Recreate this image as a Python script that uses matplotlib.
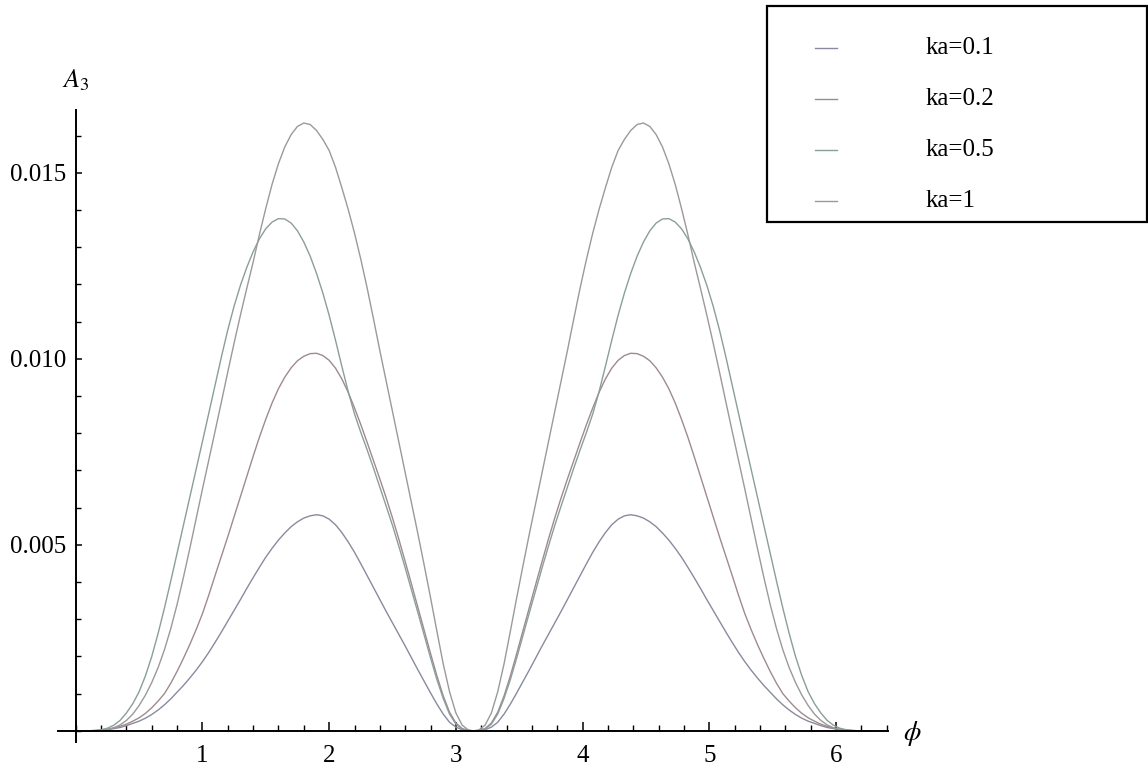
import numpy as np
import matplotlib
matplotlib.use("Agg")
import matplotlib.pyplot as plt
from matplotlib.lines import Line2D
from matplotlib.patches import Rectangle
from matplotlib.ticker import MultipleLocator, FixedLocator

plt.rcParams["font.family"] = ["Liberation Serif", "DejaVu Serif"]
plt.rcParams["mathtext.fontset"] = "stix"

W, H = 1148, 775

# sampling grid for the readings: 0..3.10 and 3.18..6.28 in steps of 0.05, plus the touch point at pi
phi_left = np.round(np.arange(0.0, 3.101, 0.05), 2)
phi_mid = [3.14]
phi_right = np.round(np.arange(3.18, 6.281, 0.05), 2)

# readings of A_3 on each lobe
a_left = [0, 0, 0, 0, 0.00001, 0.00003, 0.00008, 0.00016, 0.00028, 0.00045,
          0.00068, 0.00096, 0.00130, 0.00170, 0.00218, 0.00275, 0.00340, 0.00413, 0.00490, 0.00570,
          0.00650, 0.00728, 0.00806, 0.00885, 0.00965, 0.01043, 0.01118, 0.01190, 0.01260, 0.01335,
          0.01405, 0.01470, 0.01525, 0.01570, 0.01603, 0.01625, 0.01634, 0.01630, 0.01614, 0.01590,
          0.01560, 0.01515, 0.01460, 0.01402, 0.01338, 0.01267, 0.01190, 0.01107, 0.01022, 0.00940,
          0.00858, 0.00776, 0.00694, 0.00612, 0.00530, 0.00445, 0.00358, 0.00268, 0.00180, 0.00105,
          0.00048, 0.00015, 0.00002]
a_right = [0.00002, 0.00015, 0.00048,
           0.00105, 0.00180, 0.00268, 0.00358, 0.00445, 0.00530, 0.00612, 0.00694, 0.00776, 0.00858,
           0.00940, 0.01022, 0.01107, 0.01190, 0.01267, 0.01338, 0.01402, 0.01460, 0.01515, 0.01560,
           0.01590, 0.01614, 0.01630, 0.01634, 0.01625, 0.01603, 0.01570, 0.01525, 0.01470, 0.01405,
           0.01335, 0.01260, 0.01190, 0.01118, 0.01043, 0.00965, 0.00885, 0.00806, 0.00728, 0.00650,
           0.00570, 0.00490, 0.00413, 0.00340, 0.00275, 0.00218, 0.00170, 0.00130, 0.00096, 0.00068,
           0.00045, 0.00028, 0.00016, 0.00008, 0.00003, 0.00001, 0, 0, 0, 0]

b_left = [0, 0, 0, 0.00001, 0.00003, 0.00007, 0.00015, 0.00028, 0.00048, 0.00073,
          0.00105, 0.00148, 0.00200, 0.00262, 0.00330, 0.00403, 0.00478, 0.00553, 0.00628, 0.00703,
          0.00778, 0.00854, 0.00930, 0.01006, 0.01078, 0.01142, 0.01198, 0.01246, 0.01288, 0.01323,
          0.01350, 0.01368, 0.01377, 0.01376, 0.01365, 0.01344, 0.01314, 0.01276, 0.01230, 0.01177,
          0.01117, 0.01050, 0.00980, 0.00912, 0.00852, 0.00802, 0.00755, 0.00706, 0.00655, 0.00604,
          0.00552, 0.00496, 0.00438, 0.00378, 0.00318, 0.00257, 0.00196, 0.00138, 0.00087, 0.00045,
          0.00018, 0.00005, 0.00001]
b_right = [0.00001, 0.00005, 0.00018,
           0.00045, 0.00087, 0.00138, 0.00196, 0.00257, 0.00318, 0.00378, 0.00438, 0.00496, 0.00552,
           0.00604, 0.00655, 0.00706, 0.00755, 0.00802, 0.00852, 0.00912, 0.00980, 0.01050, 0.01117,
           0.01177, 0.01230, 0.01276, 0.01314, 0.01344, 0.01365, 0.01376, 0.01377, 0.01368, 0.01350,
           0.01323, 0.01288, 0.01246, 0.01198, 0.01142, 0.01078, 0.01006, 0.00930, 0.00854, 0.00778,
           0.00703, 0.00628, 0.00553, 0.00478, 0.00403, 0.00330, 0.00262, 0.00200, 0.00148, 0.00105,
           0.00073, 0.00048, 0.00028, 0.00015, 0.00007, 0.00003, 0.00001, 0, 0, 0]

c_left = [0, 0, 0, 0.00001, 0.00002, 0.00004, 0.00008, 0.00012, 0.00018, 0.00026,
          0.00035, 0.00047, 0.00062, 0.00080, 0.00100, 0.00128, 0.00160, 0.00195, 0.00232, 0.00272,
          0.00315, 0.00365, 0.00418, 0.00470, 0.00522, 0.00576, 0.00630, 0.00684, 0.00738, 0.00790,
          0.00838, 0.00882, 0.00920, 0.00951, 0.00976, 0.00995, 0.01007, 0.01014, 0.01015, 0.01009,
          0.00996, 0.00975, 0.00946, 0.00910, 0.00868, 0.00823, 0.00775, 0.00726, 0.00677, 0.00626,
          0.00572, 0.00515, 0.00455, 0.00394, 0.00332, 0.00270, 0.00208, 0.00148, 0.00094, 0.00050,
          0.00021, 0.00006, 0.00001]
c_right = [0.00001, 0.00006, 0.00021,
           0.00050, 0.00094, 0.00148, 0.00208, 0.00270, 0.00332, 0.00394, 0.00455, 0.00515, 0.00572,
           0.00626, 0.00677, 0.00726, 0.00775, 0.00823, 0.00868, 0.00910, 0.00946, 0.00975, 0.00996,
           0.01009, 0.01015, 0.01014, 0.01007, 0.00995, 0.00976, 0.00951, 0.00920, 0.00882, 0.00838,
           0.00790, 0.00738, 0.00684, 0.00630, 0.00576, 0.00522, 0.00470, 0.00418, 0.00365, 0.00315,
           0.00272, 0.00232, 0.00195, 0.00160, 0.00128, 0.00100, 0.00080, 0.00062, 0.00047, 0.00035,
           0.00026, 0.00018, 0.00012, 0.00008, 0.00004, 0.00002, 0.00001, 0, 0, 0]

d_left = [0, 0, 0, 0, 0.00001, 0.00003, 0.00006, 0.00009, 0.00014, 0.00020,
          0.00026, 0.00034, 0.00044, 0.00056, 0.00070, 0.00086, 0.00104, 0.00122, 0.00142, 0.00163,
          0.00186, 0.00211, 0.00238, 0.00266, 0.00295, 0.00324, 0.00353, 0.00383, 0.00412, 0.00440,
          0.00467, 0.00491, 0.00513, 0.00532, 0.00549, 0.00562, 0.00572, 0.00578, 0.00581, 0.00578,
          0.00569, 0.00554, 0.00533, 0.00508, 0.00480, 0.00449, 0.00417, 0.00385, 0.00353, 0.00321,
          0.00290, 0.00259, 0.00228, 0.00196, 0.00164, 0.00133, 0.00102, 0.00072, 0.00045, 0.00023,
          0.00010, 0.00003, 0.00001]
d_right = [0.00001, 0.00003, 0.00010,
           0.00023, 0.00045, 0.00072, 0.00102, 0.00133, 0.00164, 0.00196, 0.00228, 0.00259, 0.00290,
           0.00321, 0.00353, 0.00385, 0.00417, 0.00449, 0.00480, 0.00508, 0.00533, 0.00554, 0.00569,
           0.00578, 0.00581, 0.00578, 0.00572, 0.00562, 0.00549, 0.00532, 0.00513, 0.00491, 0.00467,
           0.00440, 0.00412, 0.00383, 0.00353, 0.00324, 0.00295, 0.00266, 0.00238, 0.00211, 0.00186,
           0.00163, 0.00142, 0.00122, 0.00104, 0.00086, 0.00070, 0.00056, 0.00044, 0.00034, 0.00026,
           0.00020, 0.00014, 0.00009, 0.00006, 0.00003, 0.00001, 0, 0, 0, 0]

labels = ["ka=0.1", "ka=0.2", "ka=0.5", "ka=1"]
series = [(d_left, d_right), (c_left, c_right), (b_left, b_right), (a_left, a_right)]
colors = ["#8a8a9e", "#9e8a90", "#8a9e9c", "#9a9a9a"]

x_major = [1, 2, 3, 4, 5, 6]
y_major = [0.005, 0.010, 0.015]
y_ticklabels = ["0.005", "0.010", "0.015"]

fig = plt.figure(figsize=(W / 100, H / 100), dpi=100)
ax = fig.add_axes([58 / W, (H - 742) / H, 830 / W, 632 / H])

phi = list(phi_left) + phi_mid + list(phi_right)
for (left, right), col in zip(series, colors):
    ax.plot(phi, list(left) + [0] + list(right), color=col, lw=1.0)

ax.set_xlim(-0.14, 6.41)
ax.set_ylim(-0.0003, 0.01669)

for side in ("top", "right"):
    ax.spines[side].set_visible(False)
ax.spines["left"].set_position(("data", 0))
ax.spines["bottom"].set_position(("data", 0))
for side in ("left", "bottom"):
    ax.spines[side].set_linewidth(1.4)
    ax.spines[side].set_color("black")

ax.xaxis.set_major_locator(FixedLocator(x_major))
ax.xaxis.set_minor_locator(MultipleLocator(0.2))
ax.yaxis.set_major_locator(FixedLocator(y_major))
ax.yaxis.set_minor_locator(MultipleLocator(0.001))
ax.set_yticklabels(y_ticklabels)

ax.tick_params(axis="x", which="major", direction="in", length=6.5, width=1.1,
               labelsize=18, pad=10)
ax.tick_params(axis="x", which="minor", direction="in", length=4.5, width=1.0)
ax.tick_params(axis="y", which="major", direction="in", length=4.5, width=1.1,
               labelsize=18, pad=7)
ax.tick_params(axis="y", which="minor", direction="in", length=3.5, width=1.0)

# axis labels, Mathematica style
fig.text(76 / W, 1 - 80 / H, r"$A_3$", fontsize=19, ha="center", va="center")
fig.text(912 / W, 1 - 733 / H, r"$\phi$", fontsize=20, ha="center", va="center")

# legend box
fig.add_artist(Rectangle((767 / W, 1 - 222 / H), 380 / W, 216 / H,
                         transform=fig.transFigure, facecolor="white",
                         edgecolor="black", lw=1.6))
for i, (lab, col) in enumerate(zip(labels, colors)):
    yy = 1 - (48 + 51 * i) / H
    fig.add_artist(Line2D([815 / W, 837 / W], [yy, yy], transform=fig.transFigure,
                          color=col, lw=1.0))
    fig.text(926 / W, yy, lab, fontsize=18, ha="left", va="center")

fig.savefig("out.png", dpi=100, facecolor="white")
